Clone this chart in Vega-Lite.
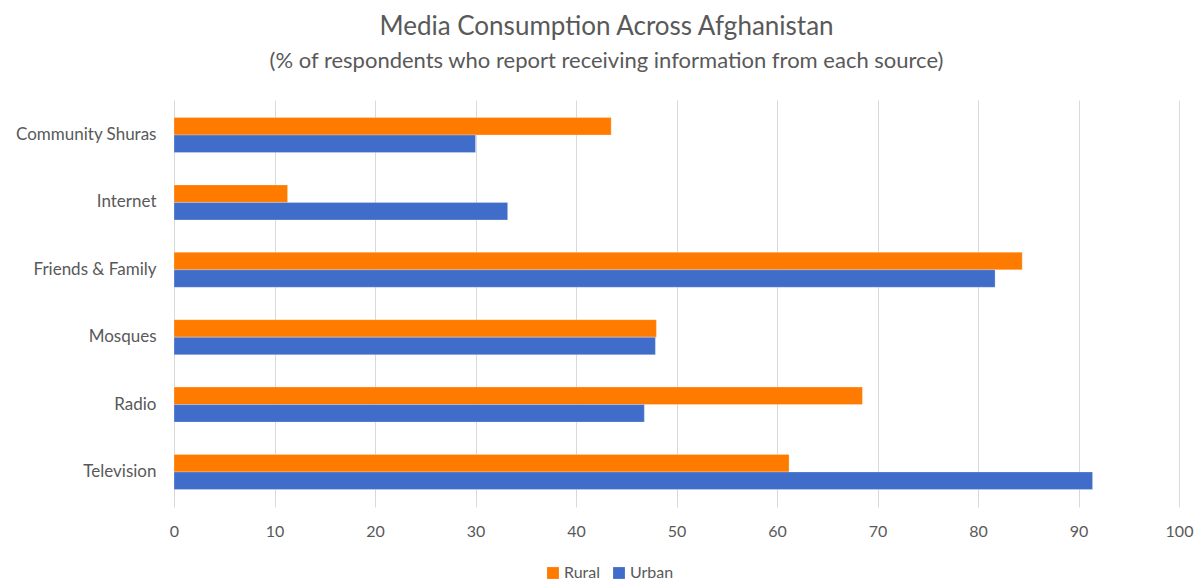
{
  "$schema": "https://vega.github.io/schema/vega-lite/v6.json",
  "width": 1005,
  "height": 407,
  "autosize": {"type": "none"},
  "padding": {"left": 174, "top": 100, "right": 19, "bottom": 74},
  "background": "white",
  "title": {
    "text": "Media Consumption Across Afghanistan",
    "subtitle": "(% of respondents who report receiving information from each source)",
    "anchor": "middle",
    "dx": -70,
    "offset": 28,
    "font": "Lato",
    "fontSize": 26,
    "fontWeight": "normal",
    "color": "#595959",
    "subtitleFont": "Lato",
    "subtitleFontSize": 22,
    "subtitleColor": "#595959",
    "subtitlePadding": 11
  },
  "data": {
    "values": [
      {"source": "Community Shuras", "group": "Rural", "value": 43.5},
      {"source": "Community Shuras", "group": "Urban", "value": 30.0},
      {"source": "Internet", "group": "Rural", "value": 11.3},
      {"source": "Internet", "group": "Urban", "value": 33.2},
      {"source": "Friends & Family", "group": "Rural", "value": 84.4},
      {"source": "Friends & Family", "group": "Urban", "value": 81.7},
      {"source": "Mosques", "group": "Rural", "value": 48.0},
      {"source": "Mosques", "group": "Urban", "value": 47.9},
      {"source": "Radio", "group": "Rural", "value": 68.5},
      {"source": "Radio", "group": "Urban", "value": 46.8},
      {"source": "Television", "group": "Rural", "value": 61.2},
      {"source": "Television", "group": "Urban", "value": 91.4}
    ]
  },
  "mark": {"type": "bar", "stroke": "white", "strokeWidth": 0.5, "strokeOpacity": 0.5},
  "encoding": {
    "y": {
      "field": "source",
      "type": "nominal",
      "sort": ["Community Shuras", "Internet", "Friends & Family", "Mosques", "Radio", "Television"],
      "scale": {"paddingInner": 0.48, "paddingOuter": 0.26},
      "axis": {
        "title": null,
        "domain": false,
        "ticks": false,
        "grid": false,
        "labelPadding": 18,
        "labelFont": "Lato",
        "labelFontSize": 17,
        "labelColor": "#595959"
      }
    },
    "yOffset": {"field": "group", "type": "nominal", "sort": ["Rural", "Urban"]},
    "x": {
      "field": "value",
      "type": "quantitative",
      "scale": {"domain": [0, 100]},
      "axis": {
        "title": null,
        "domain": false,
        "ticks": false,
        "grid": true,
        "gridColor": "#D9D9D9",
        "gridWidth": 1,
        "values": [0, 10, 20, 30, 40, 50, 60, 70, 80, 90, 100],
        "labelOverlap": false,
        "labelFlush": false,
        "labelPadding": 16,
        "labelFont": "Lato",
        "labelFontSize": 16,
        "labelColor": "#595959"
      }
    },
    "color": {
      "field": "group",
      "type": "nominal",
      "sort": ["Rural", "Urban"],
      "scale": {"domain": ["Rural", "Urban"], "range": ["#FF7B00", "#416DCA"]},
      "legend": {
        "title": null,
        "orient": "none",
        "direction": "horizontal",
        "legendX": 371,
        "legendY": 465,
        "symbolType": "square",
        "symbolSize": 140,
        "symbolStrokeWidth": 0,
        "labelFont": "Lato",
        "labelFontSize": 16,
        "labelColor": "#595959",
        "labelOffset": 3,
        "columnPadding": 10
      }
    }
  },
  "config": {"view": {"stroke": null}}
}
